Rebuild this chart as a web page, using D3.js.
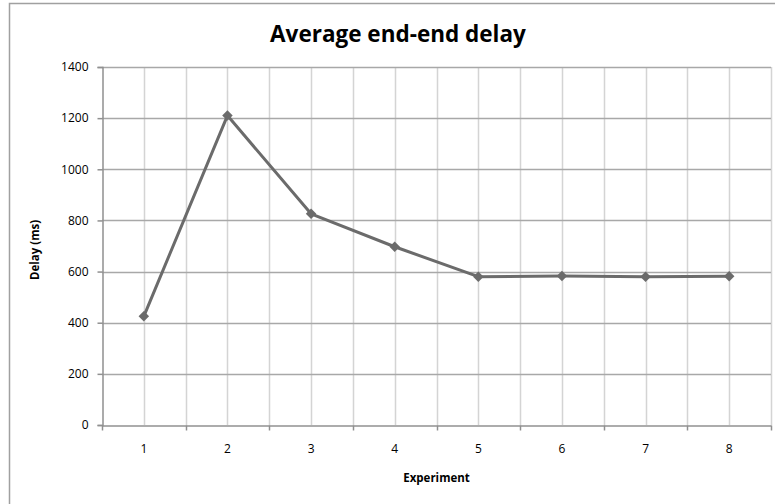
<!DOCTYPE html>
<html>
<head>
<meta charset="utf-8">
<script src="https://cdn.jsdelivr.net/npm/d3@7.9.0/dist/d3.min.js"></script>
<style>
  body { margin: 0; background: #fff; }
  svg { display: block; font-family: "Open Sans", "Liberation Sans", sans-serif; }
</style>
</head>
<body>
<div id="chart"></div>
<script>
// chart data
const experiments = [1, 2, 3, 4, 5, 6, 7, 8];
const delays = [425, 1210, 826, 697, 580, 583, 580, 582];
const yTicks = [0, 200, 400, 600, 800, 1000, 1200, 1400];

const width = 775;
const height = 504;

// plot area (pixels)
const area = { left: 102, right: 771, top: 67, bottom: 425 };

const svg = d3.select("#chart")
    .append("svg")
    .attr("width", width)
    .attr("height", height);

// outer chart border
svg.append("rect")
    .attr("x", 9.5)
    .attr("y", 3.5)
    .attr("width", 820)
    .attr("height", 540)
    .attr("fill", "#fff")
    .attr("stroke", "#a0a0a0")
    .attr("stroke-width", 1.5);

// scales
const xScale = d3.scaleBand()
    .domain(experiments)
    .range([area.left, area.right]);

const yScale = d3.scaleLinear()
    .domain([0, 1400])
    .range([area.bottom, area.top]);

// vertical gridlines at category boundaries and centres
const half = xScale.bandwidth() / 2;
const vLines = [];
experiments.forEach(e => {
    vLines.push(xScale(e) + half);
    vLines.push(xScale(e) + xScale.bandwidth());
});
svg.append("g")
    .selectAll("line")
    .data(vLines)
    .join("line")
    .attr("x1", d => Math.round(d) + 0.5)
    .attr("x2", d => Math.round(d) + 0.5)
    .attr("y1", area.top)
    .attr("y2", area.bottom)
    .attr("stroke", "#d4d4d4")
    .attr("stroke-width", 1.5);

// horizontal gridlines
svg.append("g")
    .selectAll("line")
    .data(yTicks.filter(d => d > 0))
    .join("line")
    .attr("x1", area.left)
    .attr("x2", area.right)
    .attr("y1", d => Math.round(yScale(d)) + 0.5)
    .attr("y2", d => Math.round(yScale(d)) + 0.5)
    .attr("stroke", "#a8a8a8")
    .attr("stroke-width", 1.5);

// y axis
const yAxis = d3.axisLeft(yScale)
    .tickValues(yTicks)
    .tickFormat(d3.format("d"))
    .tickSize(5)
    .tickPadding(9);
const gy = svg.append("g")
    .attr("transform", `translate(${area.left + 0.5},0)`)
    .call(yAxis);
gy.select(".domain").attr("stroke", "#909090").attr("stroke-width", 1.5);
gy.selectAll(".tick line").attr("stroke", "#909090").attr("stroke-width", 1.5);
gy.selectAll(".tick text").attr("font-size", 12).attr("fill", "#000")
    .attr("font-family", "'Open Sans', sans-serif");

// x axis
const xAxis = d3.axisBottom(xScale)
    .tickSize(0)
    .tickPadding(19);
const gx = svg.append("g")
    .attr("transform", `translate(0,${area.bottom + 0.5})`)
    .call(xAxis);
gx.select(".domain").attr("stroke", "#909090").attr("stroke-width", 1.5);
gx.selectAll(".tick text").attr("font-size", 12).attr("fill", "#000")
    .attr("font-family", "'Open Sans', sans-serif");

// x tick marks at category boundaries
gx.append("g")
    .selectAll("line")
    .data([xScale(experiments[0])].concat(experiments.map(e => xScale(e) + xScale.bandwidth())))
    .join("line")
    .attr("x1", d => Math.round(d) + 0.5)
    .attr("x2", d => Math.round(d) + 0.5)
    .attr("y1", 0)
    .attr("y2", 5)
    .attr("stroke", "#909090")
    .attr("stroke-width", 1.5);

// series line
const line = d3.line()
    .x((d, i) => xScale(experiments[i]) + half)
    .y(d => yScale(d));

svg.append("path")
    .datum(delays)
    .attr("fill", "none")
    .attr("stroke", "#6b6b6b")
    .attr("stroke-width", 3)
    .attr("stroke-linejoin", "round")
    .attr("d", line);

// diamond markers
const diamond = d3.symbol().type(d3.symbolDiamond2).size(70);
svg.append("g")
    .selectAll("path")
    .data(delays)
    .join("path")
    .attr("d", diamond)
    .attr("transform", (d, i) => `translate(${xScale(experiments[i]) + half},${yScale(d)})`)
    .attr("fill", "#6b6b6b");

// title
svg.append("text")
    .attr("x", 398)
    .attr("y", 42)
    .attr("text-anchor", "middle")
    .attr("font-size", 22.5)
    .attr("font-weight", "bold")
    .attr("fill", "#000")
    .text("Average end-end delay");

// axis titles
svg.append("text")
    .attr("transform", `translate(39,${(area.top + area.bottom) / 2 + 4}) rotate(-90)`)
    .attr("text-anchor", "middle")
    .attr("font-size", 11.5)
    .attr("font-weight", "bold")
    .attr("fill", "#000")
    .text("Delay (ms)");

svg.append("text")
    .attr("x", (area.left + area.right) / 2)
    .attr("y", 482)
    .attr("text-anchor", "middle")
    .attr("font-size", 11.5)
    .attr("font-weight", "bold")
    .attr("fill", "#000")
    .text("Experiment");
</script>
</body>
</html>
